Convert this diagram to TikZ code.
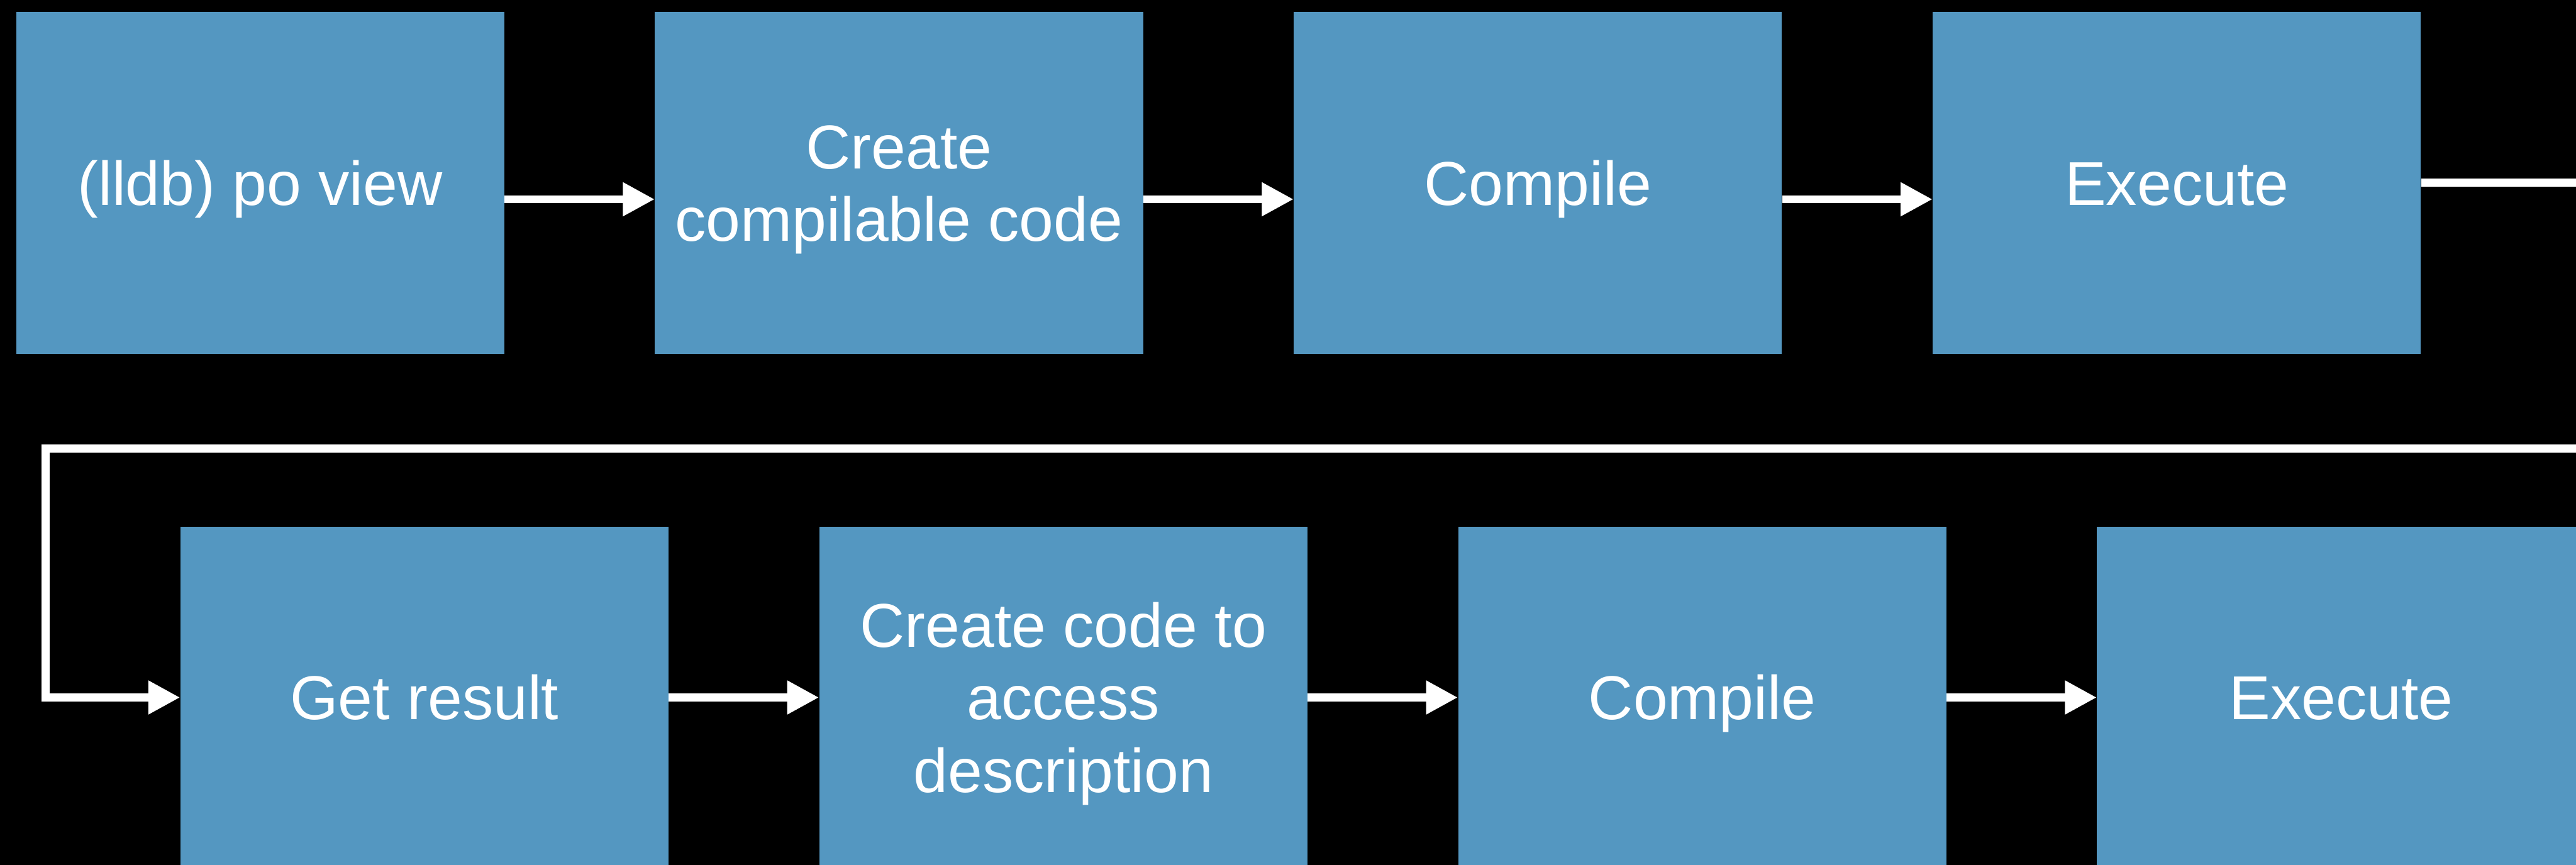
\documentclass[tikz,border=0pt]{standalone}
\usepackage{fontspec}
\setmainfont{Liberation Sans}
\usetikzlibrary{positioning, arrows.meta}

\definecolor{stepblue}{RGB}{84,151,193}

\begin{document}
\begin{tikzpicture}[
		node distance=3.92cm,
		box/.style={fill=stepblue, text=white, align=center, inner sep=0pt, minimum width=12.73cm, minimum height=8.92cm, text height=33pt, text depth=0pt, font=\fontsize{46}{53.8}\selectfont},
		arrow/.style={-{Triangle[length=0.83cm, width=0.83cm]}, line width=0.21cm, draw=white}
	]

	% Background
	\fill[black] (0,0) rectangle (67.19,-22.57);
	\clip (0,0) rectangle (67.19,-22.57);

	% Nodes
	\node[box] (po) at (6.785,-4.77) {(lldb) po view};
	\node[box, text height=86.8pt, right=of po] (create) {Create\\compilable code};
	\node[box, right=of create] (compile) {Compile};
	\node[box, right=of compile] (exec) {Execute};

	\node[box] (result) at (11.07,-18.20) {Get result};
	\node[box, text height=140.6pt, right=of result] (access) {Create code to\\access\\description};
	\node[box, right=of access] (compile2) {Compile};
	\node[box, right=of compile2] (exec2) {Execute};

	\coordinate (back) at (1.19,-11.70);

	% Connections
	\draw[arrow] ([yshift=-0.43cm]po.east) -- ([yshift=-0.43cm]create.west);
	\draw[arrow] ([yshift=-0.43cm]create.east) -- ([yshift=-0.43cm]compile.west);
	\draw[arrow] ([yshift=-0.43cm]compile.east) -- ([yshift=-0.43cm]exec.west);

	\draw[arrow] (exec.east) -- ++(6,0) |- (back) |- (result.west);

	\draw[arrow] (result) -- (access);
	\draw[arrow] (access) -- (compile2);
	\draw[arrow] (compile2) -- (exec2);

\end{tikzpicture}
\end{document}
